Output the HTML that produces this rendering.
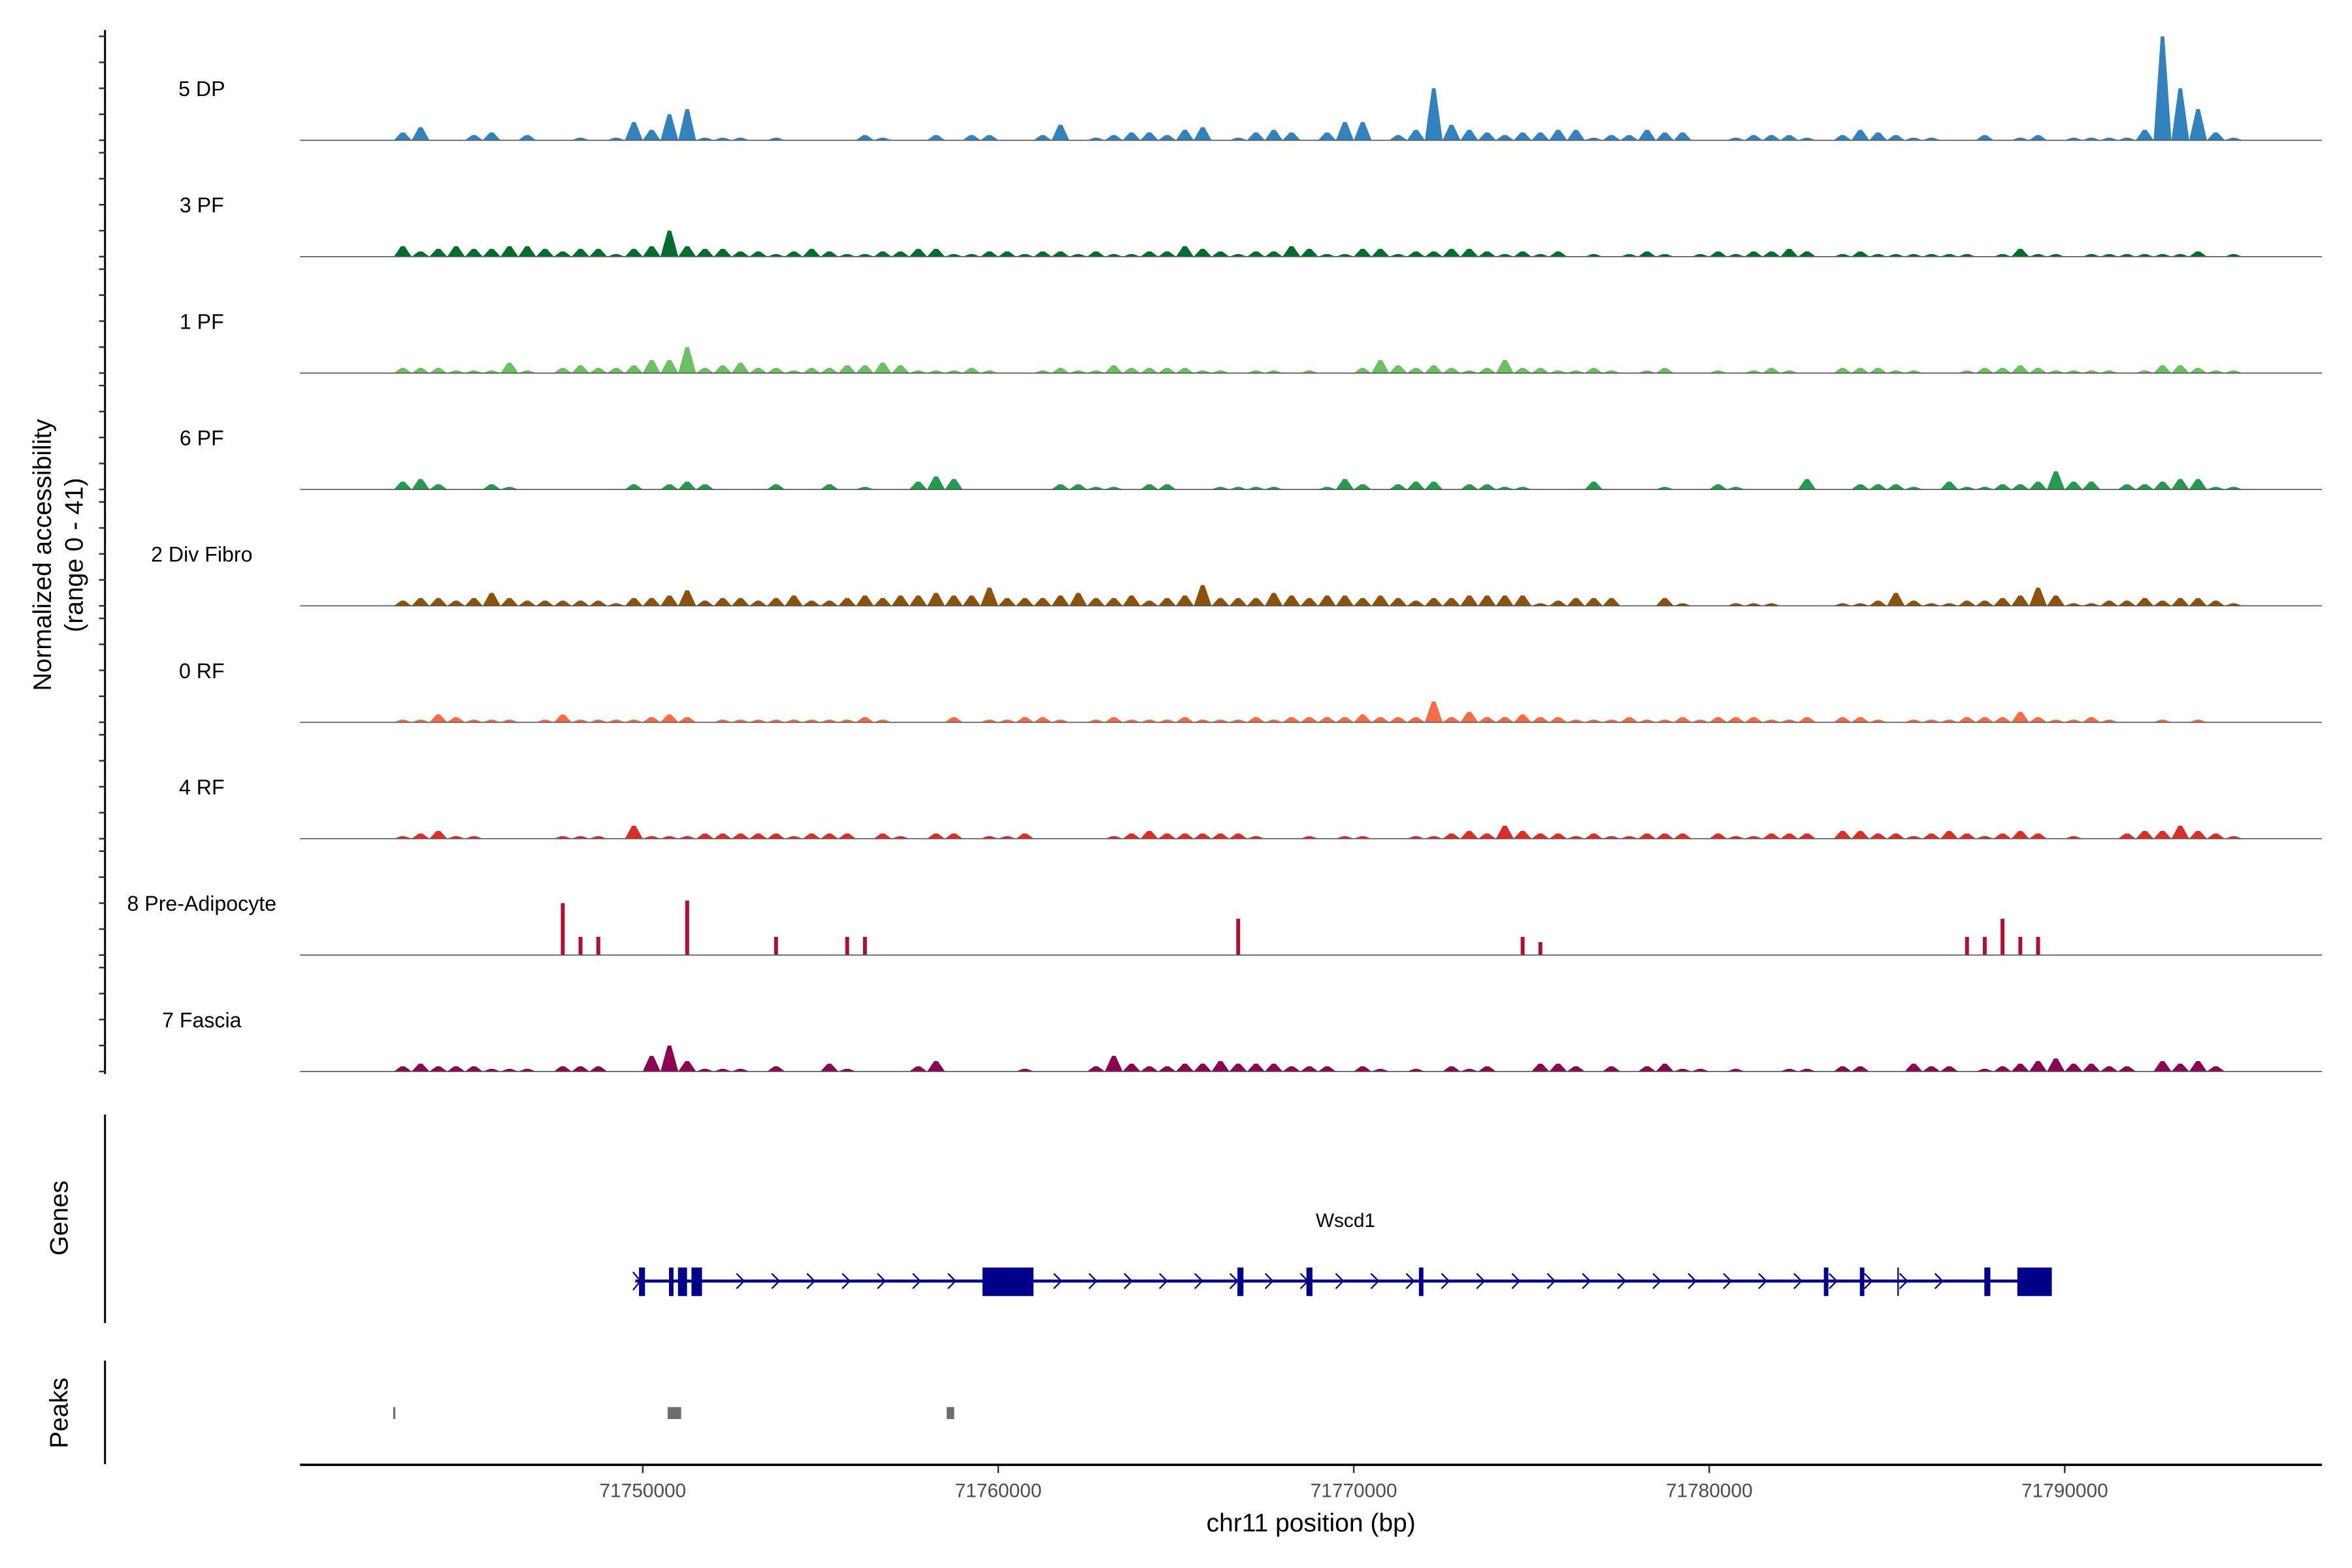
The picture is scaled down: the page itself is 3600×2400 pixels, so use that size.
<!DOCTYPE html>
<html><head><meta charset="utf-8"><style>
html,body{margin:0;padding:0;background:#fff}
svg{display:block}
text{font-family:"Liberation Sans",Arial,sans-serif}
</style></head><body>
<svg id="chart" width="3600" height="2400" viewBox="0 0 1568 1045.3" preserveAspectRatio="none" xmlns="http://www.w3.org/2000/svg">
<rect x="0" y="0" width="1568" height="1045.3" fill="#fff"/>
<g id="tracks"></g>
<g id="yaxis"></g>
<g>
<text transform="translate(34,370) rotate(-90)" text-anchor="middle" font-size="17" fill="#000">Normalized accessibility</text>
<text transform="translate(55,370) rotate(-90)" text-anchor="middle" font-size="17" fill="#000">(range 0 - 41)</text>
</g>
<g font-size="14" fill="#000" text-anchor="middle">
<text x="134.5" y="64">5 DP</text>
<text x="134.5" y="141.6">3 PF</text>
<text x="134.5" y="219.2">1 PF</text>
<text x="134.5" y="296.8">6 PF</text>
<text x="134.5" y="374.4">2 Div Fibro</text>
<text x="134.5" y="452">0 RF</text>
<text x="134.5" y="529.6">4 RF</text>
<text x="134.5" y="607.2">8 Pre-Adipocyte</text>
<text x="134.5" y="684.8">7 Fascia</text>
</g>
<g>
<line x1="70" y1="743" x2="70" y2="882" stroke="#000" stroke-width="1.3"/>
<text transform="translate(45,812) rotate(-90)" text-anchor="middle" font-size="17" fill="#000">Genes</text>
<text x="897" y="818" text-anchor="middle" font-size="13" fill="#000">Wscd1</text>
<g id="gene"></g>
</g>
<g>
<line x1="70" y1="907" x2="70" y2="976" stroke="#000" stroke-width="1.3"/>
<text transform="translate(45,942) rotate(-90)" text-anchor="middle" font-size="17" fill="#000">Peaks</text>
<g id="peaks"></g>
</g>
<g id="xaxis">
<line x1="200" y1="976.5" x2="1548" y2="976.5" stroke="#000" stroke-width="1.6"/>
</g>
<text x="874" y="1021" text-anchor="middle" font-size="17" fill="#000">chr11 position (bp)</text>
</svg>
<script>
const binStart = 71743000;
const binSize = 500;
const trackNames = ["5 DP","3 PF","1 PF","6 PF","2 Div Fibro","0 RF","4 RF","8 Pre-Adipocyte","7 Fascia"];
const trackColors = ["#3182bd","#006d2c","#6cc063","#249a4d","#8c510a","#f66d45","#de2d26","#b0102e","#8c0152"];
const dp5 = [3,5,0,0,2,3,0,2,0,0,1,0,1,7,4,10,12,1,1,1,0,1,0,0,0,0,2,1,0,0,2,0,2,2,0,0,2,6,0,1,2,3,3,2,4,5,0,1,3,4,3,0,3,7,7,0,2,4,20,6,4,3,2,3,3,4,4,1,2,2,4,3,3,0,0,1,2,2,2,1,2,4,3,2,1,1,0,0,2,0,1,2,0,1,1,1,1,4,40,20,12,3,1];
const pf3 = [4,2,3,4,3,3,4,4,3,2,3,3,1,3,4,10,4,3,3,2,2,1,2,3,2,1,1,2,2,3,3,1,1,2,2,1,2,2,1,2,1,1,2,2,4,3,2,1,2,2,4,3,1,1,3,3,1,2,2,3,3,2,1,2,1,2,0,1,0,1,2,1,0,1,2,1,2,2,3,2,1,2,1,1,1,1,1,1,0,1,3,1,1,0,1,1,1,1,1,1,2,0,1];
const pf1 = [2,2,2,1,1,1,4,1,0,2,3,2,2,3,5,5,10,2,3,4,2,2,1,2,2,3,3,4,3,1,1,1,2,1,0,0,1,2,1,1,3,2,2,2,2,1,1,0,1,1,0,1,0,0,2,5,3,2,3,2,1,2,5,2,2,1,1,2,1,0,1,2,0,0,1,0,1,2,1,0,2,2,2,1,1,0,0,1,2,2,3,2,1,1,1,1,0,1,3,3,2,1,1];
const pf6 = [3,4,2,0,0,2,1,0,0,0,0,0,0,2,0,2,3,2,0,0,0,2,0,0,2,0,1,0,0,3,5,4,0,0,0,0,0,2,2,1,1,0,2,2,0,0,1,1,1,1,0,0,1,4,2,0,2,3,3,0,2,2,1,1,0,0,0,3,0,0,0,1,0,0,2,1,0,0,0,4,0,2,2,2,1,0,3,1,1,2,2,3,7,3,3,0,2,2,3,4,4,1,1];
const divFibro = [2,3,3,2,3,5,3,2,2,2,2,2,1,3,3,4,6,2,3,3,2,3,4,2,2,3,4,3,4,4,5,4,4,7,3,3,3,4,5,3,3,4,2,3,4,8,3,3,3,5,4,3,4,4,3,4,3,2,3,3,4,4,4,4,1,2,3,3,3,0,0,3,1,0,0,1,1,1,0,0,1,1,2,5,2,1,1,2,2,3,4,7,4,1,1,2,2,3,2,3,3,2,1];
const rf0 = [1,1,3,2,1,1,1,0,1,3,1,1,1,1,2,3,2,0,1,1,1,1,1,1,1,1,2,1,0,0,0,2,0,1,1,2,2,1,0,1,2,1,1,1,2,1,1,1,2,1,2,2,2,2,3,2,2,2,8,2,4,2,2,3,2,2,1,1,1,2,1,1,2,1,2,2,2,1,1,2,2,2,1,0,1,1,1,2,2,2,4,2,1,1,2,1,0,0,1,0,1,0,0];
const rf4 = [1,2,3,1,1,0,0,0,0,1,1,1,0,5,1,1,1,2,2,2,2,2,1,2,2,2,0,2,1,0,2,2,0,1,1,2,0,0,0,0,1,2,3,2,2,2,2,2,1,0,0,1,0,1,1,0,0,1,1,2,3,2,5,3,2,2,1,2,1,1,2,2,2,0,2,1,1,2,2,2,3,3,2,2,1,2,3,2,1,2,3,2,0,1,0,0,2,3,3,5,3,2,1];
const preAdipo = [0,0,0,0,0,0,0,0,0,20,7,7,0,0,0,0,21,0,0,0,0,7,0,0,0,7,7,0,0,0,0,0,0,0,0,0,0,0,0,0,0,0,0,0,0,0,0,14,0,0,0,0,0,0,0,0,0,0,0,0,0,0,0,7,5,0,0,0,0,0,0,0,0,0,0,0,0,0,0,0,0,0,0,0,0,0,0,0,7,7,14,7,7,0,0,0,0,0,0,0,0,0,0];
const fascia = [2,3,2,2,2,1,1,1,0,2,2,2,0,0,6,10,4,1,1,1,0,2,0,0,3,1,0,0,0,2,4,0,0,0,0,1,0,0,0,2,6,3,2,2,3,3,4,3,3,3,2,2,2,0,2,1,0,1,0,2,1,2,0,0,3,3,2,0,2,0,2,3,1,1,0,1,0,0,1,1,2,2,0,0,3,2,2,0,1,2,3,4,5,3,3,2,2,0,4,3,4,2,0];
const trackValues = [dp5,pf3,pf1,pf6,divFibro,rf0,rf4,preAdipo,fascia];
const gapBinIndex = 80;
const yMax = 41;
const yTicks = [0,10,20,30,40];
const xTickValues = [71750000,71760000,71770000,71780000,71790000];
const xTickLabels = ["71750000","71760000","71770000","71780000","71790000"];
const geneStart = 71749790;
const geneEnd = 71789636;
const exonStarts = [71749895,71750738,71750991,71751371,71759556,71766728,71768669,71771833,71783224,71784237,71785291,71787738,71788666];
const exonEnds = [71750063,71750865,71751245,71751667,71760990,71766897,71768838,71771960,71783351,71784363,71785333,71787907,71789636];
const peakStarts = [71742980,71750700,71758550];
const peakEnds = [71743040,71751080,71758760];

const NS = "http://www.w3.org/2000/svg";
const firstBase = 93.5, trackStep = 77.6, trackH = 71;
function xScale(bp){ return 428.5 + (bp - 71750000) * 0.0237; }
function yScale(v, base){ return base - v / yMax * trackH; }
function mk(tag, attrs, parent){ const e = document.createElementNS(NS, tag); for (const k in attrs) e.setAttribute(k, attrs[k]); parent.appendChild(e); return e; }

const tracksG = document.getElementById('tracks');
const yaxisG = document.getElementById('yaxis');
mk('line', {x1:70, y1:20, x2:70, y2:716, stroke:'#000', 'stroke-width':1.3}, yaxisG);
trackValues.forEach((vals, t) => {
  const base = firstBase + t * trackStep;
  const g = mk('g', {}, tracksG);
  
  
  let d = '';
  vals.forEach((v, i) => {
    if (v <= 0) return;
    const bi = (t !== 7 && i >= gapBinIndex) ? i + 1 : i;
    const x0 = xScale(binStart + bi * binSize), x1 = xScale(binStart + (bi + 1) * binSize);
    const w = x1 - x0, y = yScale(v, base);
    if (t === 7) {
      const c = (x0 + x1) / 2;
      d += `M${(c-1.3).toFixed(2)} ${base}L${(c-1.3).toFixed(2)} ${y.toFixed(2)}L${(c+1.3).toFixed(2)} ${y.toFixed(2)}L${(c+1.3).toFixed(2)} ${base}Z`;
    } else {
      d += `M${x0.toFixed(2)} ${base}L${(x0+0.4*w).toFixed(2)} ${y.toFixed(2)}L${(x0+0.6*w).toFixed(2)} ${y.toFixed(2)}L${x1.toFixed(2)} ${base}Z`;
    }
  });
  const p = mk('path', {d: d, fill: trackColors[t]}, g);
  
  
  const bl = mk('line', {x1:200, y1:base, x2:1548, y2:base, stroke:'#555', 'stroke-width':0.7}, g);
  
  
  yTicks.forEach(tv => {
    const ty = yScale(tv, base);
    const tk = mk('line', {x1:66, y1:ty, x2:70, y2:ty, stroke:'#333', 'stroke-width':1.1}, yaxisG);
    
    
  });
});

const geneG = document.getElementById('gene');
const gy = 854;
const gl = mk('line', {x1:xScale(geneStart), y1:gy, x2:xScale(geneEnd), y2:gy, stroke:'#00008b', 'stroke-width':2}, geneG);


for (let x = 494; x <= 1305; x += 23.5) {
  const ch = mk('polyline', {points:`${x-3},${gy-5} ${x+2},${gy} ${x-3},${gy+5}`, fill:'none', stroke:'#00008b', 'stroke-width':1}, geneG);
  
  
}
const ch0 = mk('polyline', {points:`422,${gy-6} 427,${gy} 422,${gy+6}`, fill:'none', stroke:'#00008b', 'stroke-width':1}, geneG);


exonStarts.forEach((s, i) => {
  const x0 = xScale(s), x1 = xScale(exonEnds[i]);
  const r = mk('rect', {x:x0, y:845, width:Math.max(1, x1 - x0), height:19, fill:'#00008b'}, geneG);
  
  
});

const peaksG = document.getElementById('peaks');
peakStarts.forEach((s, i) => {
  const x0 = xScale(s), x1 = xScale(peakEnds[i]);
  const r = mk('rect', {x:x0, y:938, width:Math.max(1, x1 - x0), height:8, fill:'#6e6e6e'}, peaksG);
  
  
});

const xaxisG = document.getElementById('xaxis');
xTickValues.forEach((v, i) => {
  const x = xScale(v);
  const tk = mk('line', {x1:x, y1:977, x2:x, y2:982, stroke:'#333', 'stroke-width':1.1}, xaxisG);
  
  
  const lb = mk('text', {x:x, y:998, 'text-anchor':'middle', 'font-size':13, fill:'#4d4d4d'}, xaxisG);
  lb.textContent = xTickLabels[i];
  
  
});
</script>
</body></html>
